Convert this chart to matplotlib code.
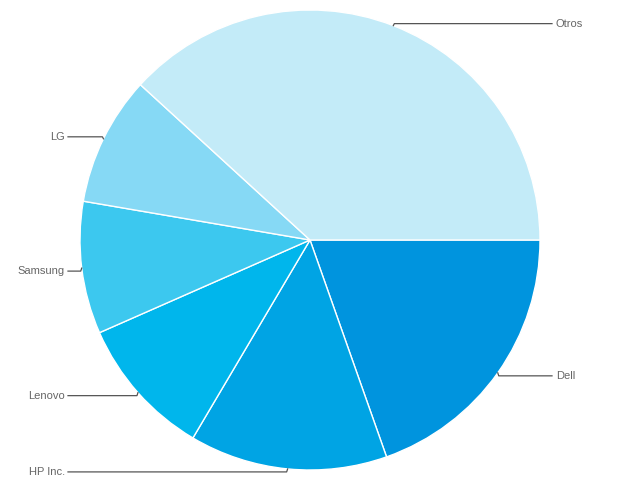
import numpy as np
import matplotlib
matplotlib.use('agg')
import matplotlib.pyplot as plt

plt.rcParams['font.family'] = ['Liberation Sans', 'DejaVu Sans']

# market share per brand, clockwise from 3 o'clock
brands = ['Dell', 'HP Inc.', 'Lenovo', 'Samsung', 'LG', 'Otros']
shares = [19.6, 13.9, 9.9, 9.3, 9.1, 38.2]
colors = ['#0094DE', '#00A4E4', '#00B6EC', '#3CC8EF', '#86D9F5', '#C3EBF8']

fig = plt.figure(figsize=(6.2, 4.8), dpi=100)
ax = fig.add_axes([0, 0, 1, 1])

cx, cy, r = 310, 240, 230
ax.pie(shares, colors=colors, startangle=0, counterclock=False,
       center=(cx, cy), radius=r,
       wedgeprops=dict(edgecolor='white', linewidth=1))

# leader lines + labels
total = float(sum(shares))
start = 0.0
for name, val in zip(brands, shares):
    ang = start + val / total * 360.0 / 2
    start += val / total * 360.0
    t = np.radians(ang)
    ex = cx + r * np.cos(t)
    ey = cy - r * np.sin(t)
    ly = ey + 2 if ey > cy else ey - 3
    if ex >= cx:
        ax.plot([ex, ex + 1, 552], [ey, ly, ly], color='#555555', lw=0.9)
        ax.text(556, ly, name, ha='left', va='center', fontsize=8, color='#666666')
    else:
        ax.plot([ex, ex - 1, 68], [ey, ly, ly], color='#555555', lw=0.9)
        ax.text(65, ly, name, ha='right', va='center', fontsize=8, color='#666666')

ax.set_xlim(0, 620)
ax.set_ylim(0, 480)
ax.set_aspect('equal')
ax.axis('off')

plt.savefig('out.png', dpi=100)
